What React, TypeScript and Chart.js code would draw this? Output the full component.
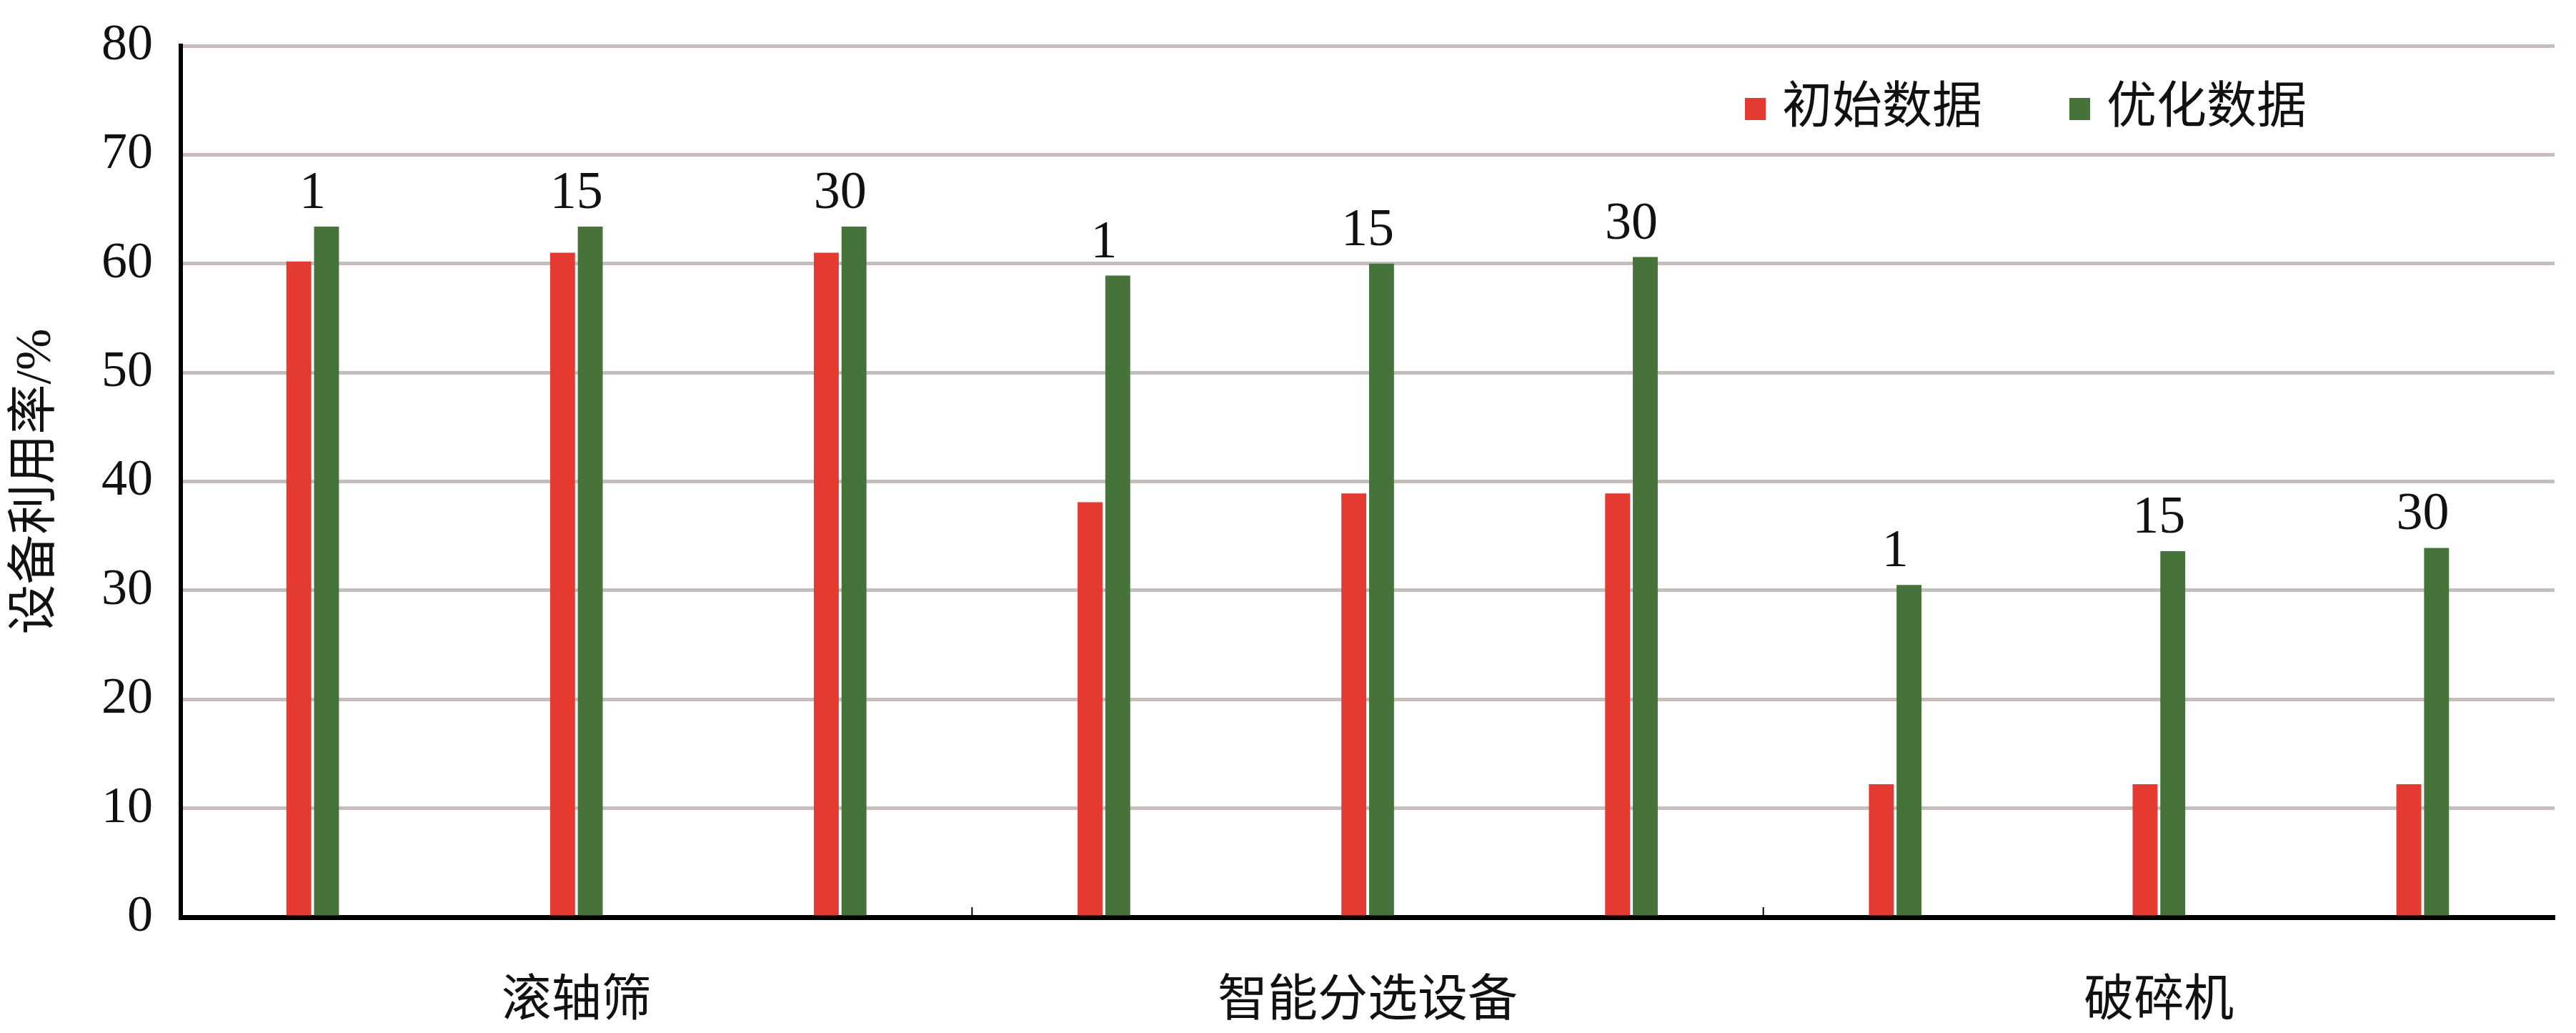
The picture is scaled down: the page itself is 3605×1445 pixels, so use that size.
import React, { useEffect, useRef } from 'react';
import { Chart, registerables } from 'chart.js';

Chart.register(...registerables);

const groups = ['滚轴筛', '智能分选设备', '破碎机'];
const times = ['1', '15', '30'];
const seriesNames = ['初始数据', '优化数据'];
const initialData = [60.2, 61.0, 61.0, 38.1, 38.9, 38.9, 12.2, 12.2, 12.2];
const optimizedData = [63.4, 63.4, 63.4, 58.9, 60.0, 60.6, 30.5, 33.6, 33.9];
const yMin = 0;
const yMax = 80;
const yStep = 10;
const yTitle = '设备利用率/%';

const categories = groups.flatMap((g) => times.map((t) => `${g} ${t}`));

const RED = '#e53a31';
const GREEN = '#457339';
const FONT = "'Liberation Serif', 'Noto Sans CJK SC', serif";

const overlayPlugin = {
  id: 'overlay',
  afterDatasetsDraw(chart: any) {
    const ctx = chart.ctx;
    const xs = chart.scales.x;
    const area = chart.chartArea;
    const m0 = chart.getDatasetMeta(0).data;
    const m1 = chart.getDatasetMeta(1).data;
    ctx.save();
    // time labels above each bar pair
    ctx.fillStyle = '#111';
    ctx.font = `74px ${FONT}`;
    ctx.textAlign = 'center';
    ctx.textBaseline = 'alphabetic';
    for (let i = 0; i < categories.length; i++) {
      const top = Math.min(m0[i].y, m1[i].y);
      const x = xs.getPixelForValue(i);
      ctx.fillText(times[i % times.length], x, top - 26);
    }
    // group boundary ticks
    ctx.strokeStyle = '#000';
    ctx.lineWidth = 2;
    for (let k = 1; k < groups.length; k++) {
      const xb = (xs.getPixelForValue(k * 3 - 1) + xs.getPixelForValue(k * 3)) / 2;
      ctx.beginPath();
      ctx.moveTo(xb, area.bottom);
      ctx.lineTo(xb, area.bottom - 14);
      ctx.stroke();
    }
    // legend
    const colors = [RED, GREEN];
    const startX = area.right - 1133;
    const cy = 152;
    const itemGap = 454;
    ctx.font = `70px ${FONT}`;
    ctx.textAlign = 'left';
    ctx.textBaseline = 'middle';
    chart.data.datasets.forEach((ds: any, i: number) => {
      const bx = startX + i * itemGap;
      ctx.fillStyle = colors[i];
      ctx.fillRect(bx, cy - 15, 29, 31);
      ctx.fillStyle = '#111';
      ctx.fillText(ds.label, bx + 52, cy + 2);
    });
    ctx.restore();
  },
};

export default function App() {
  const ref = useRef<HTMLCanvasElement>(null);
  useEffect(() => {
    document.body.style.margin = '0';
    const canvas = ref.current!;
    const chart = new Chart(canvas, {
      type: 'bar',
      data: {
        labels: categories,
        datasets: [
          {
            label: seriesNames[0],
            data: initialData,
            backgroundColor: RED,
            barPercentage: 0.9,
            categoryPercentage: 0.21,
          },
          {
            label: seriesNames[1],
            data: optimizedData,
            backgroundColor: GREEN,
            barPercentage: 0.9,
            categoryPercentage: 0.21,
          },
        ],
      },
      options: {
        responsive: false,
        animation: false,
        devicePixelRatio: 1,
        layout: { padding: { left: 8, right: 30, top: 64, bottom: 12 } },
        plugins: {
          legend: { display: false },
          tooltip: { enabled: false },
        },
        scales: {
          x: {
            grid: { display: false, drawTicks: false },
            border: { display: true, color: '#000', width: 7 },
            ticks: {
              autoSkip: false,
              maxRotation: 0,
              minRotation: 0,
              padding: 78,
              color: '#111',
              font: { family: FONT, size: 70 },
              callback: (_v: any, idx: number) =>
                idx % times.length === 1 ? groups[Math.floor(idx / times.length)] : '',
            },
            afterFit: (scale: any) => {
              scale.height = 150;
              scale.paddingLeft = 0;
              scale.paddingRight = 0;
            },
          },
          y: {
            min: yMin,
            max: yMax,
            ticks: {
              stepSize: yStep,
              padding: 39,
              color: '#111',
              font: { family: FONT, size: 72 },
            },
            grid: {
              color: (c: any) => (c.tick && c.tick.value === 0 ? 'rgba(0,0,0,0)' : '#c6beba'),
              lineWidth: 5,
              drawTicks: false,
            },
            border: { display: true, color: '#000', width: 6 },
            title: {
              display: true,
              text: yTitle,
              color: '#111',
              font: { family: FONT, size: 70 },
              padding: { top: 2, bottom: 50 },
            },
            afterFit: (scale: any) => {
              scale.width = 245;
              scale.paddingTop = 0;
              scale.paddingBottom = 0;
            },
          },
        },
      },
      plugins: [overlayPlugin],
    } as any);
    return () => chart.destroy();
  }, []);
  return (
    <div style={{ width: 3605, height: 1445, background: '#fff' }}>
      <canvas ref={ref} width={3605} height={1445} style={{ display: 'block' }} />
    </div>
  );
}
